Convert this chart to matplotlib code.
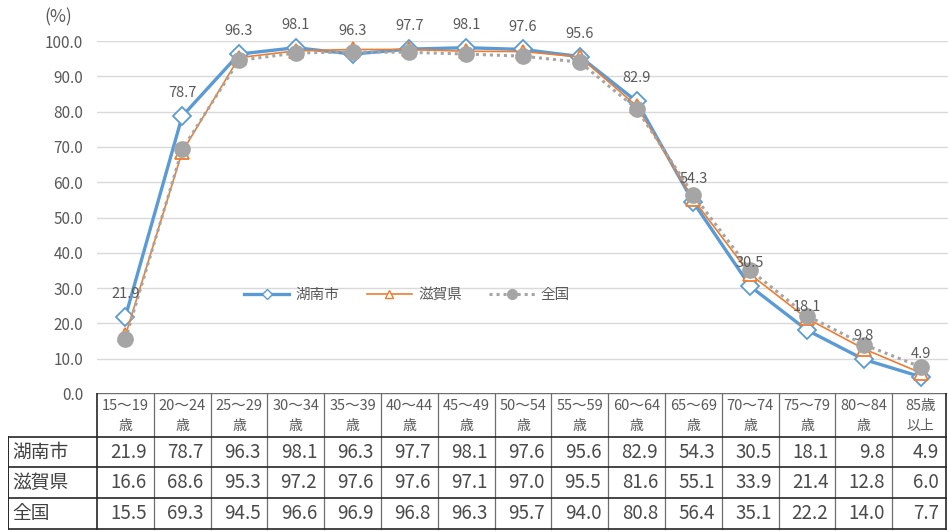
import matplotlib
matplotlib.use("Agg")
import matplotlib.pyplot as plt
from matplotlib.lines import Line2D

plt.rcParams['font.family'] = ['Noto Sans CJK JP', 'DejaVu Sans']

# 年齢階級別 労働力率
age_groups = ["15～19\n歳", "20～24\n歳", "25～29\n歳", "30～34\n歳", "35～39\n歳",
              "40～44\n歳", "45～49\n歳", "50～54\n歳", "55～59\n歳", "60～64\n歳",
              "65～69\n歳", "70～74\n歳", "75～79\n歳", "80～84\n歳", "85歳\n以上"]
series_names = ["湖南市", "滋賀県", "全国"]
konan = [21.9, 78.7, 96.3, 98.1, 96.3, 97.7, 98.1, 97.6, 95.6, 82.9, 54.3, 30.5, 18.1, 9.8, 4.9]
shiga = [16.6, 68.6, 95.3, 97.2, 97.6, 97.6, 97.1, 97.0, 95.5, 81.6, 55.1, 33.9, 21.4, 12.8, 6.0]
zenkoku = [15.5, 69.3, 94.5, 96.6, 96.9, 96.8, 96.3, 95.7, 94.0, 80.8, 56.4, 35.1, 22.2, 14.0, 7.7]
y_ticks = [0, 10, 20, 30, 40, 50, 60, 70, 80, 90, 100]

BLUE = "#5B9BD5"
ORANGE = "#ED7D31"
GRAY = "#A5A5A5"
TEXT = "#595959"

W, H = 948, 532
X0, X1 = 97, 949          # plot area, pixels
Y_TOP, Y_ZERO = 41, 394
n = len(age_groups)
unit = (X1 - X0) / n

fig = plt.figure(figsize=(W / 100, H / 100), dpi=100)
ax = fig.add_axes([X0 / W, (H - Y_ZERO) / H, (X1 - X0) / W, (Y_ZERO - Y_TOP) / H])
x = list(range(n))

ax.set_xlim(-0.5, n - 0.5)
ax.set_ylim(0, 100)
ax.set_yticks(y_ticks)
ax.set_yticklabels([f"{v:.1f}" for v in y_ticks], color=TEXT, fontsize=11)
ax.tick_params(axis='y', length=0, pad=10)
ax.set_xticks([])
for s in ax.spines.values():
    s.set_visible(False)
ax.grid(axis='y', color="#D9D9D9", linewidth=1)
ax.set_axisbelow(True)

ax.plot(x, konan, color=BLUE, lw=2.4, marker='D', ms=9, mfc='white', mec=BLUE,
        mew=1.3, clip_on=False, zorder=3)
ax.plot(x, shiga, color=ORANGE, lw=1.2, marker='^', ms=10, mfc='white', mec=ORANGE,
        mew=1.3, clip_on=False, zorder=4)
ax.plot(x, zenkoku, color=GRAY, lw=2.2, ls=(0, (1, 1.3)), marker='o', ms=11,
        mfc=GRAY, mec=GRAY, clip_on=False, zorder=5)

for xi, v in zip(x, konan):
    ax.annotate(f"{v:.1f}", (xi, v), xytext=(0, 16.5), textcoords='offset points',
                ha='center', va='center', fontsize=10.5, color=TEXT, zorder=6)

fig.text(44 / W, 1 - 17 / H, "(%)", ha='left', va='center', fontsize=12.5, color=TEXT)

handles = [
    Line2D([], [], color=BLUE, lw=2.4, marker='D', ms=5, mfc='white', mec=BLUE, mew=1),
    Line2D([], [], color=ORANGE, lw=1.2, marker='^', ms=6, mfc='white', mec=ORANGE, mew=1),
    Line2D([], [], color=GRAY, lw=2.2, ls=(0, (1, 1.3)), marker='o', ms=7, mfc=GRAY, mec=GRAY),
]
fig.legend(handles, series_names, loc='center', bbox_to_anchor=(407 / W, 1 - 295 / H),
           ncol=3, frameon=False, fontsize=10.5, handlelength=3.1, handletextpad=0.4,
           columnspacing=1.9, labelcolor=TEXT)

# データテーブル
T_TOP, T_BOT, T_LEFT, T_RIGHT = 393, 531, 8, 946
tax = fig.add_axes([T_LEFT / W, (H - T_BOT) / H, (X1 - T_LEFT) / W, (T_BOT - T_TOP) / H])
tax.set_xlim(-0.5 - (X0 - T_LEFT) / unit, n - 0.5)
tax.set_ylim(T_BOT - T_TOP, 0)
tax.axis('off')

xl = -0.5 - (X0 - T_LEFT) / unit
xr = -0.5 + (T_RIGHT - X0) / unit
rows = [0, 44, 74, 105, 136]
dark = "#262626"
mid = "#6E6E6E"

# header row lines
tax.plot([-0.5, xr], [rows[0], rows[0]], color=mid, lw=1)
for k in range(n + 1):
    xb = -0.5 + k if k < n else xr
    tax.plot([xb, xb], [rows[0], rows[-1]], color=dark if k in (0, n) else mid,
             lw=1.2 if k in (0, n) else 0.9)
for r in rows[1:]:
    tax.plot([xl, xr], [r, r], color=dark, lw=1.2)
tax.plot([xl, xl], [rows[1], rows[-1]], color=dark, lw=1.4)

for i, lab in enumerate(age_groups):
    top, bottom = lab.split("\n")
    tax.text(i, 13, top, ha='center', va='center', fontsize=10.5, color=TEXT)
    tax.text(i, 33, bottom, ha='center', va='center', fontsize=10, color=TEXT)

pad = 7 / unit
for r, (name, vals) in enumerate(zip(series_names, [konan, shiga, zenkoku])):
    yc = (rows[r + 1] + rows[r + 2]) / 2
    tax.text(xl + 4 / unit, yc, name, ha='left', va='center', fontsize=13.5, color="#404040")
    for i, v in enumerate(vals):
        right = (-0.5 + i + 1) if i < n - 1 else xr
        tax.text(right - pad, yc, f"{v:.1f}", ha='right', va='center', fontsize=13.5,
                 color="#4A4A4A")

fig.savefig("out.png", dpi=100)
